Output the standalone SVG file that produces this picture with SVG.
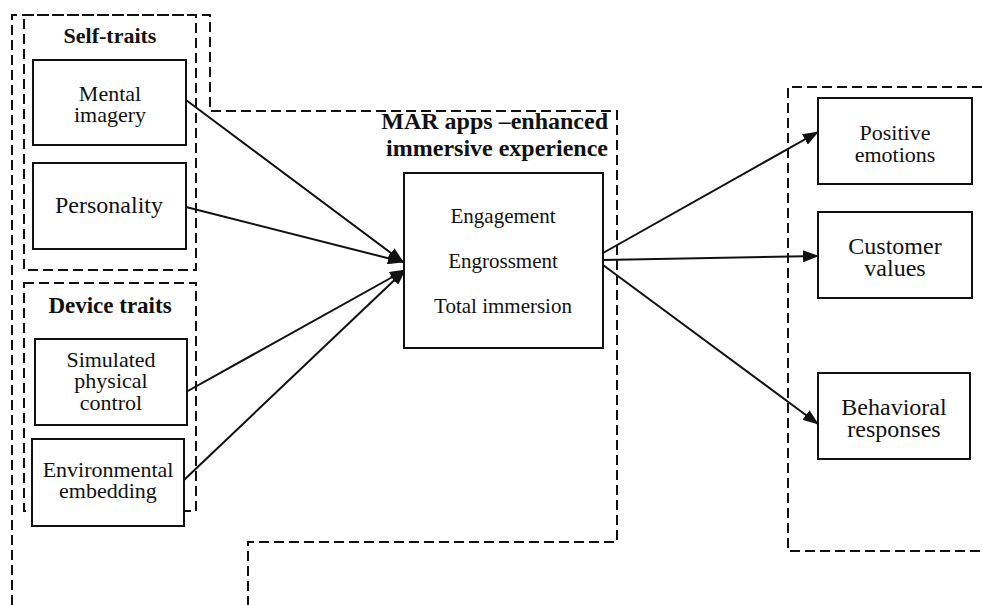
<svg xmlns="http://www.w3.org/2000/svg" width="982" height="605" viewBox="0 0 982 605">
  <style>
    .frame { fill: none; stroke: #111; stroke-width: 2; stroke-dasharray: 10 5; }
    .box { fill: #fff; stroke: #111; stroke-width: 2; }
    .edge { fill: none; stroke: #111; stroke-width: 2; }
    .t { font-family: "Liberation Serif", "Times New Roman", serif; fill: #111; text-anchor: middle; }
    .b { font-weight: bold; }
  </style>
  <defs>
    <marker id="arrow" viewBox="0 0 16 12" refX="15" refY="6" markerWidth="16" markerHeight="12" markerUnits="userSpaceOnUse" orient="auto">
      <path d="M0,0 L16,6 L0,12 z" fill="#111"/>
    </marker>
  </defs>

  <rect width="982" height="605" fill="#fff"/>

  <!-- grouping frames -->
  <g id="frames">
    <path class="frame" d="M12,605 L12,15 L210,15 L210,111 L617,111 L617,542 L248,542 L248,605"/>
    <rect class="frame" x="24" y="15" width="172" height="255"/>
    <rect class="frame" x="24" y="283" width="172" height="228"/>
    <path class="frame" d="M982,87 L788,87 L788,551 L982,551"/>
  </g>

  <!-- frame headings -->
  <g id="headings">
    <text class="t b" x="110" y="43" font-size="22">Self-traits</text>
    <text class="t b" x="110" y="313" font-size="23">Device traits</text>
    <text class="t b" x="608" y="129" font-size="24" style="text-anchor:end">MAR apps –enhanced</text>
    <text class="t b" x="608" y="156" font-size="24" style="text-anchor:end">immersive experience</text>
  </g>

  <!-- connectors -->
  <g id="connectors">
    <line class="edge" x1="186" y1="100" x2="403" y2="262" marker-end="url(#arrow)"/>
    <line class="edge" x1="186" y1="207" x2="403" y2="262" marker-end="url(#arrow)"/>
    <line class="edge" x1="186" y1="392" x2="405" y2="270" marker-end="url(#arrow)"/>
    <line class="edge" x1="184" y1="480" x2="405" y2="270" marker-end="url(#arrow)"/>
    <line class="edge" x1="603" y1="253" x2="818" y2="132" marker-end="url(#arrow)"/>
    <line class="edge" x1="603" y1="260" x2="818" y2="256" marker-end="url(#arrow)"/>
    <line class="edge" x1="603" y1="265" x2="818" y2="424" marker-end="url(#arrow)"/>
  </g>

  <g id="mental-imagery">
    <rect class="box" x="33" y="60" width="153" height="85"/>
    <text class="t" x="110" y="101" font-size="22">Mental</text>
    <text class="t" x="110" y="122" font-size="22">imagery</text>
  </g>

  <g id="personality">
    <rect class="box" x="33" y="163" width="153" height="86"/>
    <text class="t" x="109" y="213" font-size="24">Personality</text>
  </g>

  <g id="simulated-physical-control">
    <rect class="box" x="35" y="339" width="152" height="86"/>
    <text class="t" x="111" y="367" font-size="22">Simulated</text>
    <text class="t" x="111" y="388" font-size="22">physical</text>
    <text class="t" x="111" y="410" font-size="22">control</text>
  </g>

  <g id="environmental-embedding">
    <rect class="box" x="32" y="439" width="152" height="87"/>
    <text class="t" x="108" y="477" font-size="22">Environmental</text>
    <text class="t" x="108" y="498" font-size="22">embedding</text>
  </g>

  <g id="immersive-experience">
    <rect class="box" x="404" y="173" width="199" height="175"/>
    <text class="t" x="503" y="223" font-size="21">Engagement</text>
    <text class="t" x="503" y="268" font-size="21">Engrossment</text>
    <text class="t" x="503" y="313" font-size="21">Total immersion</text>
  </g>

  <g id="positive-emotions">
    <rect class="box" x="818" y="98" width="154" height="86"/>
    <text class="t" x="895" y="140" font-size="22">Positive</text>
    <text class="t" x="895" y="162" font-size="22">emotions</text>
  </g>

  <g id="customer-values">
    <rect class="box" x="818" y="212" width="154" height="86"/>
    <text class="t" x="895" y="254" font-size="24">Customer</text>
    <text class="t" x="895" y="276" font-size="24">values</text>
  </g>

  <g id="behavioral-responses">
    <rect class="box" x="818" y="373" width="152" height="86"/>
    <text class="t" x="894" y="415" font-size="24">Behavioral</text>
    <text class="t" x="894" y="437" font-size="24">responses</text>
  </g>
</svg>
